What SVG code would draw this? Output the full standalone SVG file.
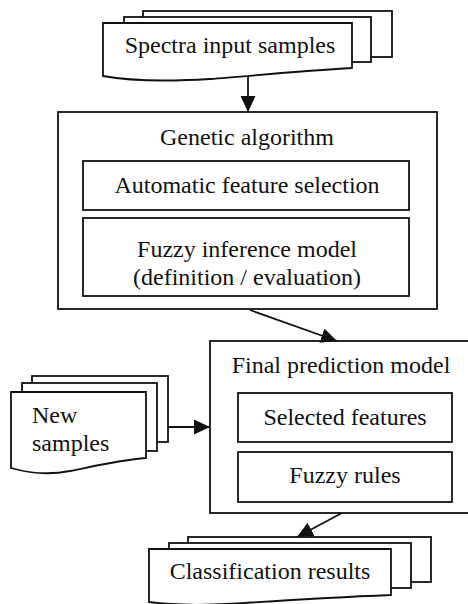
<svg xmlns="http://www.w3.org/2000/svg" width="468" height="604" viewBox="0 0 468 604">
  <style>
    .box { fill: #fff; stroke: #111; stroke-width: 1.8; }
    .lbl { font-family: 'Liberation Serif', serif; font-size: 24px; fill: #111; }
    .c { text-anchor: middle; }
    .edge { stroke: #111; stroke-width: 1.8; fill: none; marker-end: url(#head); }
  </style>
  <defs>
    <marker id="head" markerUnits="userSpaceOnUse" markerWidth="16" markerHeight="16" refX="16" refY="7.5" orient="auto">
      <path d="M0,0 L16,7.5 L0,15 Z" fill="#111"/>
    </marker>
  </defs>
  <rect width="468" height="604" fill="#fff"/>

  <!-- stacked documents: input spectra -->
  <g id="spectra-input">
    <rect class="box" x="143" y="11" width="249" height="46"/>
    <rect class="box" x="124" y="17" width="247" height="45"/>
    <path class="box" d="M103,23 H352 V68 C300,71 250,76 210,79 C160,82 125,80 103,76 Z"/>
    <text class="lbl c" font-family="Liberation Serif" x="230" y="53">Spectra input samples</text>
  </g>

  <!-- genetic algorithm container -->
  <g id="genetic-algorithm">
    <rect class="box" x="58" y="112" width="379" height="197"/>
    <text class="lbl c" font-family="Liberation Serif" x="247" y="145">Genetic algorithm</text>
  </g>
  <g id="feature-selection">
    <rect class="box" x="83" y="161" width="326" height="49"/>
    <text class="lbl c" font-family="Liberation Serif" x="247" y="193">Automatic feature selection</text>
  </g>
  <g id="fuzzy-inference">
    <rect class="box" x="83" y="218" width="326" height="78"/>
    <text class="lbl c" font-family="Liberation Serif" x="247" y="257">Fuzzy inference model</text>
    <text class="lbl c" font-family="Liberation Serif" x="247" y="285">(definition / evaluation)</text>
  </g>

  <!-- final prediction model container -->
  <g id="final-model">
    <rect class="box" x="210" y="341" width="270" height="172"/>
    <text class="lbl c" font-family="Liberation Serif" x="341" y="373">Final prediction model</text>
  </g>
  <g id="selected-features">
    <rect class="box" x="238" y="393" width="214" height="49"/>
    <text class="lbl c" font-family="Liberation Serif" x="345" y="425">Selected features</text>
  </g>
  <g id="fuzzy-rules">
    <rect class="box" x="238" y="452" width="214" height="50"/>
    <text class="lbl c" font-family="Liberation Serif" x="345" y="483">Fuzzy rules</text>
  </g>

  <!-- stacked documents: new samples -->
  <g id="new-samples">
    <rect class="box" x="32" y="376" width="136" height="66"/>
    <rect class="box" x="22" y="383" width="135" height="68"/>
    <path class="box" d="M11,392 H146 V458 C120,460 95,466 70,471 C45,476 25,472 11,468 Z"/>
    <text class="lbl" font-family="Liberation Serif" x="32" y="423">New</text>
    <text class="lbl" font-family="Liberation Serif" x="32" y="451">samples</text>
  </g>

  <!-- stacked documents: results -->
  <g id="classification-results">
    <rect class="box" x="188" y="537" width="243" height="45"/>
    <rect class="box" x="169" y="543" width="242" height="45"/>
    <path class="box" d="M149,549 H391 V595 C340,597 290,600 245,603 C200,606 170,605 149,602 Z"/>
    <text class="lbl c" font-family="Liberation Serif" x="270" y="579">Classification results</text>
  </g>

  <!-- connectors -->
  <g id="connectors">
    <line class="edge" x1="248" y1="77" x2="248" y2="112"/>
    <line class="edge" x1="250" y1="310" x2="337" y2="341"/>
    <line class="edge" x1="168" y1="427" x2="210" y2="427"/>
    <line class="edge" x1="342" y1="513" x2="297" y2="537"/>
  </g>
</svg>
